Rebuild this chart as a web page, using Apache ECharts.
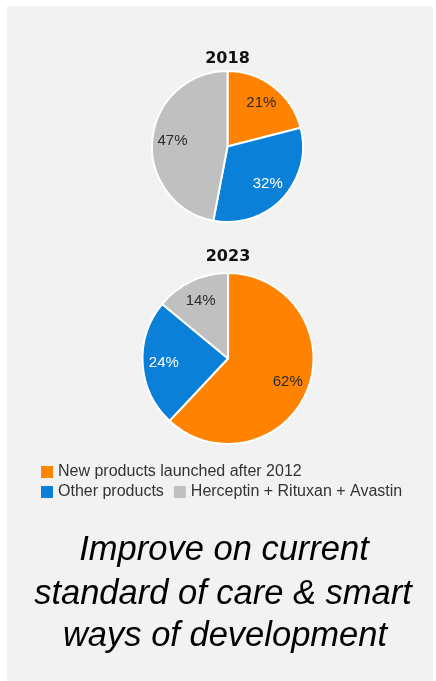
<!DOCTYPE html>
<html>
<head>
<meta charset="utf-8">
<style>
  html, body { margin: 0; padding: 0; background: #ffffff; }
  #chart { width: 436px; height: 681px; }
</style>
<script src="https://cdn.jsdelivr.net/npm/echarts@6/dist/echarts.min.js"></script>
</head>
<body>
<div id="chart"></div>
<script>
// ---- data ----
const categories = ['New products launched after 2012', 'Other products', 'Herceptin + Rituxan + Avastin'];
const years = ['2018', '2023'];
const values2018 = [21, 32, 47];
const values2023 = [62, 24, 14];
const headline = ['Improve on current', 'standard of care & smart', 'ways of development'];

// ---- styles ----
const colors = ['#ff8200', '#0a80d8', '#c0c0c0'];
const labelColors = ['#2a2a2a', '#ffffff', '#2a2a2a'];
const FONT = '"Liberation Sans", Arial, Helvetica, sans-serif';

function pieData(values, withLabel) {
  return values.map((v, i) => ({
    name: categories[i],
    value: v,
    itemStyle: withLabel ? { color: 'rgba(0,0,0,0)', borderWidth: 0 } : { color: colors[i] },
    label: { color: labelColors[i] }
  }));
}

function piePair(values, center, r, rLabelInner) {
  return [
    {
      type: 'pie', center: center, radius: [0, r], startAngle: 90, clockwise: true,
      silent: true, animation: false,
      itemStyle: { borderColor: '#ffffff', borderWidth: 2 },
      label: { show: false }, labelLine: { show: false },
      emphasis: { disabled: true },
      data: pieData(values, false)
    },
    {
      type: 'pie', center: center, radius: [rLabelInner, r], startAngle: 90, clockwise: true,
      silent: true, animation: false, z: 5,
      label: { show: true, position: 'inside', formatter: '{c}%', fontSize: 15, fontFamily: FONT },
      labelLine: { show: false },
      emphasis: { disabled: true },
      data: pieData(values, true)
    }
  ];
}

const chart = echarts.init(document.getElementById('chart'), null, { renderer: 'canvas' });

const legendCommon = {
  orient: 'horizontal', icon: 'rect', itemWidth: 12, itemHeight: 12, itemGap: 10,
  padding: 0, selectedMode: false,
  itemStyle: { borderWidth: 0 },
  textStyle: { fontSize: 16, color: '#333333', fontFamily: FONT }
};

function legendItem(i) {
  return { name: categories[i], itemStyle: { color: colors[i], borderWidth: 0, borderColor: 'transparent' } };
}

const option = {
  backgroundColor: '#ffffff',
  animation: false,
  graphic: [
    { type: 'rect', shape: { x: 7, y: 6, width: 426, height: 675 }, style: { fill: '#f2f2f2' }, z: -10, silent: true },
    { type: 'text', x: 227.5, y: 58.5, style: { text: years[0], fill: '#111111', font: 'bold 16px "DejaVu Sans", sans-serif', align: 'center', verticalAlign: 'middle' }, silent: true },
    { type: 'text', x: 228, y: 257, style: { text: years[1], fill: '#111111', font: 'bold 16px "DejaVu Sans", sans-serif', align: 'center', verticalAlign: 'middle' }, silent: true },
    { type: 'text', x: 224, y: 550, style: { text: headline[0], fill: '#000000', font: 'italic 34.5px ' + FONT, align: 'center', verticalAlign: 'middle' }, silent: true },
    { type: 'text', x: 223, y: 594, style: { text: headline[1], fill: '#000000', font: 'italic 34.5px ' + FONT, align: 'center', verticalAlign: 'middle' }, silent: true },
    { type: 'text', x: 225, y: 636, style: { text: headline[2], fill: '#000000', font: 'italic 34.5px ' + FONT, align: 'center', verticalAlign: 'middle' }, silent: true }
  ],
  legend: [
    Object.assign({}, legendCommon, {
      left: 41, top: 464,
      data: [legendItem(0)]
    }),
    Object.assign({}, legendCommon, {
      left: 41, top: 484,
      data: [legendItem(1), legendItem(2)]
    })
  ],
  series: [].concat(
    piePair(values2018, [227.5, 146.5], 75.5, 29),
    piePair(values2023, [228, 358.5], 85.5, 37)
  )
};

chart.setOption(option);
</script>
</body>
</html>
